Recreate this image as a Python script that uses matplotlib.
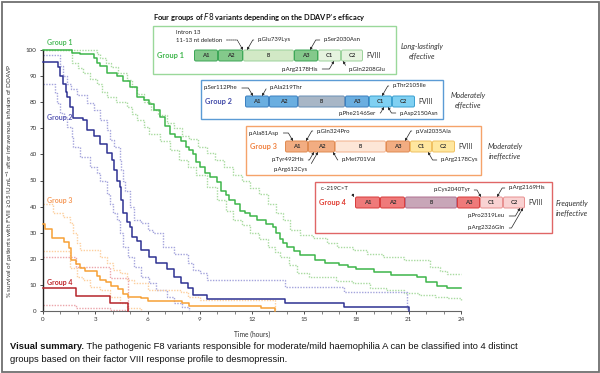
import matplotlib
matplotlib.use("Agg")
import matplotlib.pyplot as plt
from matplotlib.patches import Rectangle, FancyBboxPatch
from matplotlib.ticker import MultipleLocator

plt.rcParams['font.family'] = ['Lato', 'DejaVu Sans']

# ---- Kaplan-Meier curves (time in hours, % survival) ----
g1_t = [0, 1.65, 2.1, 2.9, 3.1, 3.3, 3.7, 4.25, 4.6, 5.0, 5.4, 5.8, 6.1, 6.4, 6.7, 7.0, 7.3, 7.6, 7.9, 8.2,
        8.4, 8.6, 8.8, 9.0, 9.3, 9.6, 10.0, 10.2, 10.5, 10.7, 11.0, 11.3, 11.6, 11.9, 12.3, 12.8, 13.2, 13.4,
        13.6, 13.8, 14.0, 14.4, 14.75, 15.6, 16.2, 17.0, 17.5, 18.0, 19.0, 20.0, 21.5, 22.0, 22.6, 23.2, 24]
g1_v = [100, 99, 98.5, 97, 95, 94, 91, 90, 88, 86, 82, 81, 79.5, 77, 74.5, 71, 68, 66.5, 65, 63,
        61.5, 60, 57, 55, 53, 51.5, 49.5, 46, 44.5, 42.5, 41, 38.5, 37.5, 36.5, 35, 33.5, 32, 30,
        27.5, 26, 24.5, 23, 21.5, 19.5, 18.5, 17.5, 17, 16, 15, 13.8, 13, 11, 9.5, 8.8, 8.8]
g1_up_t = [0, 3.1, 3.3, 3.6, 3.9, 4.3, 4.8, 5.1, 5.4, 5.8, 6.2, 6.6, 7.1, 7.5, 8.0, 8.4, 8.9, 9.4, 9.9, 10.4,
           10.9, 11.4, 11.9, 12.4, 12.9, 13.4, 13.8, 14.2, 14.75, 15.5, 16.3, 16.9, 17.8, 18.6, 19.5, 20.7,
           22.2, 22.8, 23.2, 24]
g1_up_v = [100, 98.5, 97, 95, 93.5, 91, 88.5, 86, 83, 80, 77, 75, 72, 70, 67, 66, 63, 60.5, 58, 55,
           52, 50, 47, 45, 41, 37.5, 35, 31, 29, 28, 26, 24.5, 23.5, 22, 20.5, 19.5,
           17, 15.5, 14, 14]
g1_lo_t = [0, 1.65, 2.0, 2.3, 2.7, 3.1, 3.4, 3.7, 4.2, 4.8, 5.1, 5.4, 5.8, 6.1, 6.7, 7.3, 7.8, 8.3, 8.8, 9.4,
           10.0, 10.5, 10.9, 11.4, 11.9, 12.4, 12.9, 13.3, 13.6, 14.1, 14.6, 15.3, 16.8, 17.8, 18.8, 19.7,
           20.7, 21.6, 22.5, 23.2, 24]
g1_lo_v = [100, 95, 93, 91, 89, 87, 84, 82, 80, 78, 75.5, 73, 70.5, 68, 65, 61.7, 58, 55, 52, 47.5,
           42.5, 38.5, 35, 33, 30, 27.5, 24.5, 22.5, 20.7, 17.5, 14.5, 13, 11.5, 10.7, 9, 8,
           7, 6.1, 5.5, 5, 4.2]

g2_t = [0, 0.85, 1.0, 1.15, 1.3, 1.4, 1.55, 1.7, 2.3, 2.5, 2.9, 3.3, 3.7, 3.95, 4.1, 4.25, 4.4, 4.5, 4.6,
        4.8, 5.0, 5.1, 5.4, 5.6, 6.1, 6.5, 7.1, 7.5, 7.9, 8.3, 8.6, 9.4, 13.9, 17.3, 21.0]
g2_v = [95.5, 93.5, 90, 87, 84, 82, 78, 74, 73, 69.5, 67, 64, 60.5, 58, 54, 50, 47.5, 42.5, 37.5,
        34, 32, 28.5, 27, 23.5, 20.5, 18.5, 16, 13, 10.7, 8.8, 6.1, 4.6, 3, 1.4, 0]
g2_up_t = [0, 1.0, 1.15, 1.4, 1.6, 1.95, 2.5, 2.9, 3.3, 3.7, 3.85, 4.1, 4.4, 4.5, 4.6, 4.7, 5.0, 5.2, 5.6,
           6.0, 6.3, 6.9, 7.5, 8.3, 8.6, 9.0, 9.4, 13.9, 17.3, 20.9]
g2_up_v = [98, 94, 90, 87, 85, 82.7, 79.7, 77, 73, 69.3, 65.5, 62.8, 57.8, 54, 50, 46, 40, 35, 33.7,
           31, 30, 24.5, 22, 18.4, 15.7, 14.5, 11.9, 9.2, 7.2, 0]
g2_lo_t = [0, 0.7, 0.8, 1.0, 1.2, 1.4, 1.65, 1.7, 2.1, 2.7, 3.1, 3.3, 3.7, 3.85, 4.0, 4.25, 4.4, 4.6, 4.9,
           5.2, 5.6, 6.1, 6.5, 7.1, 7.5, 8.0, 8.4]
g2_lo_v = [87, 83.5, 79.7, 76, 74.4, 70.5, 66.7, 62.8, 59, 55, 52.9, 50, 45, 41, 37.5, 35, 30, 24.5, 20.7,
           17, 13, 10.7, 8, 5.4, 3, 1.5, 0]

g3_t = [0, 0.1, 0.5, 1.2, 1.5, 1.6, 1.9, 2.1, 2.4, 3.1, 3.3, 3.6, 3.9, 4.3, 4.6, 4.9, 5.6, 6.0, 8.0, 8.4,
        12.5, 13.3]
g3_v = [33.5, 31.5, 28, 26.5, 24, 19.5, 18, 16.5, 15.5, 13.5, 12, 11, 9.5, 8.5, 6.5, 5.5, 5, 4, 3, 2,
        1, 0]
g3_up_t = [0, 0.6, 1.15, 1.55, 1.7, 1.95, 2.1, 3.3, 3.7, 4.0, 4.4, 4.8, 5.2, 6.0, 7.9, 8.3, 9.0, 13.3]
g3_up_v = [41, 37.5, 36, 33.7, 30, 26, 23.4, 20.7, 18.4, 15.7, 14.5, 11.9, 10.7, 8, 7.3, 5.4, 4.2, 0]
g3_lo_t = [0, 1.55, 1.95, 2.3, 2.7, 3.3, 3.85, 4.4, 4.8, 5.6]
g3_lo_v = [23, 16.5, 13, 11.9, 9.2, 8, 5.4, 3, 1.1, 0]

g4_t = [0, 1.9, 3.85, 4.9]
g4_v = [8.8, 5.7, 2.9, 0]
g4_up_t = [0, 1.9, 3.85, 4.9]
g4_up_v = [20.7, 17, 12.6, 0]
g4_lo_t = [0, 1.9, 3.85, 4.9]
g4_lo_v = [2.2, 1.1, 0.5, 0]

# ---- inset texts ----
domain_names = ['A1', 'A2', 'B', 'A3', 'C1', 'C2']
efficacy = ['Long-lastingly\neffective', 'Moderately\neffective',
            'Moderately\nineffective', 'Frequently\nineffective']
caption_bold = 'Visual summary.'
caption_1 = ' The pathogenic F8 variants responsible for moderate/mild haemophilia A can be classified into 4 distinct'
caption_2 = 'groups based on their factor VIII response profile to desmopressin.'

fig = plt.figure(figsize=(6, 3.73), dpi=100)
ax = fig.add_axes([43/600, 1-311/373, 418/600, 261/373])

def km(t, v, color, lw, dotted=False, z=2):
    ls = (0, (1, 1)) if dotted else '-'
    ax.step(t, v, where='post', color=color, lw=lw, ls=ls, zorder=z, clip_on=False)

cols = {'g': ('#3db54a', '#a9dba0'), 'b': ('#2e3192', '#a4a4dc'),
        'o': ('#f7a035', '#fdcf9e'), 'r': ('#b5252b', '#eba5aa')}

km(g1_up_t, g1_up_v, cols['g'][1], 1.0, True)
km(g1_lo_t, g1_lo_v, cols['g'][1], 1.0, True)
km(g2_up_t, g2_up_v, cols['b'][1], 1.0, True)
km(g2_lo_t, g2_lo_v, cols['b'][1], 1.0, True)
km(g3_up_t, g3_up_v, cols['o'][1], 1.0, True)
km(g3_lo_t, g3_lo_v, cols['o'][1], 1.0, True)
km(g4_up_t, g4_up_v, cols['r'][1], 1.0, True)
km(g4_lo_t, g4_lo_v, cols['r'][1], 1.0, True)
km(g1_t, g1_v, cols['g'][0], 1.1, z=3)
km(g2_t, g2_v, cols['b'][0], 1.1, z=3)
km(g3_t, g3_v, cols['o'][0], 1.1, z=3)
km(g4_t, g4_v, cols['r'][0], 1.1, z=3)

ax.text(0.25, 103, 'Group 1', color='#4cbb5a', fontsize=5, fontweight='bold', va='center')
ax.text(0.25, 74, 'Group 2', color='#5a5ab4', fontsize=5, fontweight='bold', va='center')
ax.text(0.25, 42.5, 'Group 3', color='#f59a5a', fontsize=5, fontweight='bold', va='center')
ax.text(0.25, 11, 'Group 4', color='#c0282d', fontsize=5, fontweight='bold', va='center')

ax.set_xlim(0, 24)
ax.set_ylim(0, 100)
ax.set_xticks(range(0, 25, 3))
ax.set_yticks(range(0, 101, 10))
ax.xaxis.set_minor_locator(MultipleLocator(1))
ax.tick_params(labelsize=4.5, length=2.5, width=0.6, colors='#333', pad=2)
ax.tick_params(which='minor', length=2, width=0.5, colors='#555')
for s in ['top', 'right']:
    ax.spines[s].set_visible(False)
ax.spines['left'].set_color('#222')
ax.spines['left'].set_linewidth(1.0)
ax.spines['bottom'].set_color('#666')
ax.spines['bottom'].set_linewidth(0.8)
ax.set_xlabel('Time (hours)', fontsize=4.8, color='#333', labelpad=6)
ax.set_ylabel('% survival of patients with FVIII \u22650.5 IU.mL$^{-1}$ after intravenous infusion of DDAVP',
              fontsize=4.6, color='#333', labelpad=8)

# ---- overlay in pixel coordinates ----
ov = fig.add_axes([0, 0, 1, 1], zorder=5)
ov.set_xlim(0, 600)
ov.set_ylim(373, 0)
ov.axis('off')

ov.add_patch(Rectangle((1.5, 1.5), 597, 370, fill=False, ec='#707070', lw=1.3))

ov.text(153, 17, 'Four groups of $\\bf{\\it{F8}}$ variants depending on the DDAVP\u2019s efficacy',
        fontsize=5.45, fontweight='bold', va='center', color='#111')

insets = [
    dict(box=(153, 26, 396, 74), ec='#9ad89a', lab='Group 1', lc='#3db54a', y=50,
         xs=[194, 218, 243, 294, 318, 341, 363],
         fills=('#84c98b', '#d2e9c6', '#e6f3df'), edges=('#3aa655', '#9bd29b', '#9bd29b'),
         note=(422, 51)),
    dict(box=(201, 80, 443, 119), ec='#5b9bd5', lab='Group 2', lc='#3f48a8', y=96,
         xs=[245, 269, 298, 345, 369, 392, 415],
         fills=('#6aaee0', '#a8b6c6', '#7fd0f2'), edges=('#3a7fc0', '#6a8fb5', '#3a9fd0'),
         note=(468, 100)),
    dict(box=(246, 126, 481, 175), ec='#f5a36a', lab='Group 3', lc='#f07f3c', y=141,
         xs=[285, 308, 335, 386, 410, 432, 455],
         fills=('#f2ad82', '#fde6d7', '#ffe79f'), edges=('#e08a50', '#f2b08a', '#f0c060'),
         note=(505, 151)),
    dict(box=(315, 182, 552, 233), ec='#e06666', lab='Group 4', lc='#e03c31', y=197,
         xs=[355, 380, 405, 457, 480, 503, 525],
         fills=('#ef7a7a', '#c8a6b8', '#f9d2d2'), edges=('#d83b3b', '#b07090', '#e89090'),
         note=(572, 208)),
]
kind = [0, 0, 1, 0, 2, 2]
for n, ins in enumerate(insets):
    x0, y0, x1, y1 = ins['box']
    ov.add_patch(Rectangle((x0, y0), x1-x0, y1-y0, fc='white', ec=ins['ec'], lw=1.0))
    h = 11
    ov.text(x0 + 4, ins['y'] + h/2, ins['lab'], color=ins['lc'], fontsize=5.3, fontweight='bold', va='center')
    xs = ins['xs']
    for i, name in enumerate(domain_names):
        k = kind[i]
        ov.add_patch(FancyBboxPatch((xs[i] + 0.5, ins['y']), xs[i+1] - xs[i] - 1, h,
                                    boxstyle='round,pad=0,rounding_size=1.5',
                                    fc=ins['fills'][k], ec=ins['edges'][k], lw=0.7))
        ov.text((xs[i] + xs[i+1]) / 2, ins['y'] + h/2, name, ha='center', va='center',
                fontsize=4.2 if name != 'B' else 3.6, fontweight='bold', color='#333')
    ov.text(xs[-1] + 3, ins['y'] + h/2, 'FVIII', fontsize=5, va='center', color='#333')
    ov.text(ins['note'][0], ins['note'][1], efficacy[n],
            fontsize=5.3, style='italic', ha='center', va='center', color='#333', linespacing=1.3)


def mut(txt, xy, xytext, ha='left', dashed=False):
    relpos = (0, 0.5) if ha == 'left' else (1, 0.5)
    dx = xy[0] - xytext[0]
    dy = xy[1] - xytext[1]
    angB = 120 if (dx > 0) == (dy > 0) else 60
    ov.annotate(txt, xy=xy, xytext=xytext, ha=ha, va='center', fontsize=4.3, color='#222',
                arrowprops=dict(arrowstyle='-|>', color='#222', lw=0.5, mutation_scale=3.5,
                                relpos=relpos, shrinkA=1, shrinkB=0,
                                ls=(0, (2, 1)) if dashed else '-',
                                connectionstyle='angle,angleA=0,angleB=%d,rad=0' % angB))


# group 1
ov.text(176, 32, 'Intron 13', fontsize=4.3, va='center', color='#222')
mut('11-13 nt deletion', (243, 50), (176, 40), dashed=True)
mut('p.Glu739Lys', (247, 50), (258, 40))
mut('p.Ser2030Asn', (310, 50), (324, 40))
mut('p.Arg2178His', (334, 61), (318, 69), ha='right')
mut('p.Gln2208Glu', (343, 61), (349, 69))
# group 2
mut('p.Ser112Phe', (253, 96), (204, 88))
mut('p.Ala219Thr', (262, 96), (270, 88))
mut('p.Thr2105Ile', (382, 96), (393, 86))
mut('p.Phe2146Ser', (384, 107), (376, 113), ha='right')
mut('p.Asp2150Asn', (388, 107), (400, 113))
# group 3
mut('p.Ala81Asp', (293, 141), (249, 133))
mut('p.Gln324Pro', (306, 141), (317, 131))
mut('p.Val2035Ala', (405, 141), (416, 131))
mut('p.Tyr492His', (314, 152), (304, 160), ha='right')
mut('p.Arg612Cys', (318, 152), (308, 170), ha='right')
mut('p.Met701Val', (333, 152), (342, 160))
mut('p.Arg2178Cys', (428, 152), (441, 160))
# group 4
mut('c.-219C>T', (354, 197), (321, 188), dashed=True)
mut('p.Cys2040Tyr', (481, 197), (470, 190), ha='right')
mut('p.Arg2169His', (497, 197), (509, 188))
mut('p.Pro2319Leu', (520, 208), (505, 216), ha='right')
mut('p.Arg2326Gln', (523, 208), (505, 228), ha='right')

# caption
t1 = ov.text(10, 351, caption_bold, fontsize=6.72, fontweight='bold', va='bottom',
             family='Liberation Sans', color='#111')
ov.annotate(caption_1, xy=(1, 0), xycoords=t1, va='bottom', ha='left', fontsize=6.72,
            family='Liberation Sans', color='#111')
ov.text(10, 364, caption_2, fontsize=6.72, va='bottom', family='Liberation Sans', color='#111')

fig.savefig('out.png', dpi=100)
